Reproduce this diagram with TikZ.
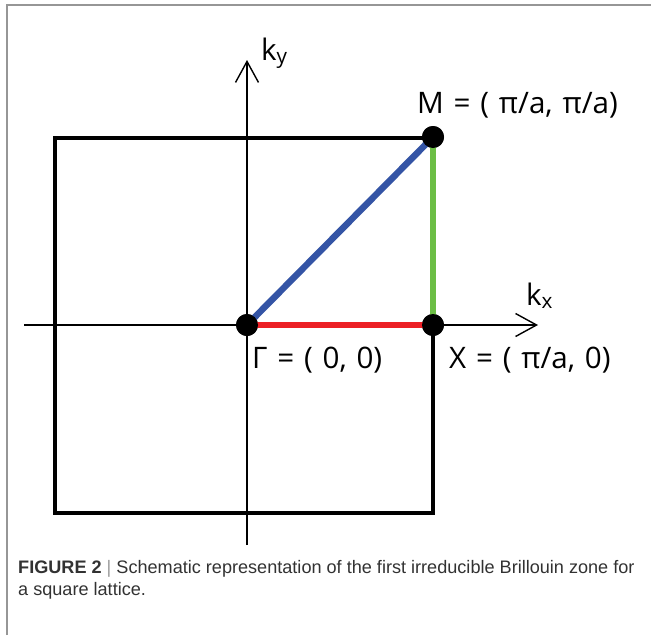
\documentclass[tikz,border=0pt]{standalone}
\usepackage{fontspec}
\setmainfont{Open Sans}
\newfontfamily\capfont{Liberation Sans}
\usetikzlibrary{positioning, arrows.meta}
\definecolor{frame}{RGB}{150,150,150}
\definecolor{pathblue}{RGB}{52,84,165}
\definecolor{pathred}{RGB}{236,32,38}
\definecolor{pathgreen}{RGB}{108,190,69}
\definecolor{captext}{RGB}{50,50,50}
\newcommand{\labfont}{\fontsize{29.6}{33}\selectfont\spaceskip=0.33em\relax}

\begin{document}
\begin{tikzpicture}[
  x=1pt, y=-1pt,
  axis/.style={draw=black, line width=1.4pt,
               -{Straight Barb[length=21pt, width=23pt, line width=1.4pt]}},
  zone/.style={draw=black, line width=3.8pt},
  ipath/.style={line width=6.5pt},
  pt/.style={circle, fill=black, inner sep=0pt, minimum size=22pt},
  lab/.style={font=\labfont, text=black, inner sep=0pt, anchor=base west}]
  \useasboundingbox (0,0) rectangle (651,635);
  % frame of the figure panel
  \draw[frame, line width=1.6pt] (7,635) -- (7,5) -- (651,5);
  % axes
  \coordinate (xl) at (24,325);
  \coordinate (xr) at (538,325);
  \coordinate (yb) at (247,545);
  \coordinate (yt) at (247,60);
  \draw[axis] (xl) -- (xr);
  \draw[axis] (yb) -- (yt);
  % first Brillouin zone
  \coordinate (tl) at (55,138);
  \coordinate (br) at (433,513);
  \draw[zone] (tl) rectangle (br);
  % high symmetry points
  \node[pt] (G) at (247,325) {};
  \node[pt] (X) at (433,325) {};
  \node[pt] (M) at (433,137) {};
  \draw[ipath, pathblue] (G.center) -- (M.center);
  \draw[ipath, pathgreen] (M.center) -- (X.center);
  \draw[ipath, pathred] (G.center) -- (X.center);
  \node[pt] at (G) {};
  \node[pt] at (X) {};
  \node[pt] at (M) {};
  % labels
  \node[lab] (ky) at (261,60) {k\textsubscript{y}};
  \node[lab] (kx) at (526,305) {k\textsubscript{x}};
  \node[lab] (Ml) at (417,113) {M = ( π/a, π/a)};
  \node[lab] (Gl) at (252,368) {Γ = ( 0, 0)};
  \node[lab] (Xl) at (449,368) {X = ( π/a, 0)};
  % caption
  \node[font=\capfont\fontsize{18.1}{22.5}\selectfont, text=captext, anchor=north west,
        inner sep=0pt, align=left] (cap) at (18,560)
    {\textbf{FIGURE 2} {\color{black!40}|} Schematic representation of the first irreducible Brillouin zone for\\a square lattice.};
\end{tikzpicture}
\end{document}
